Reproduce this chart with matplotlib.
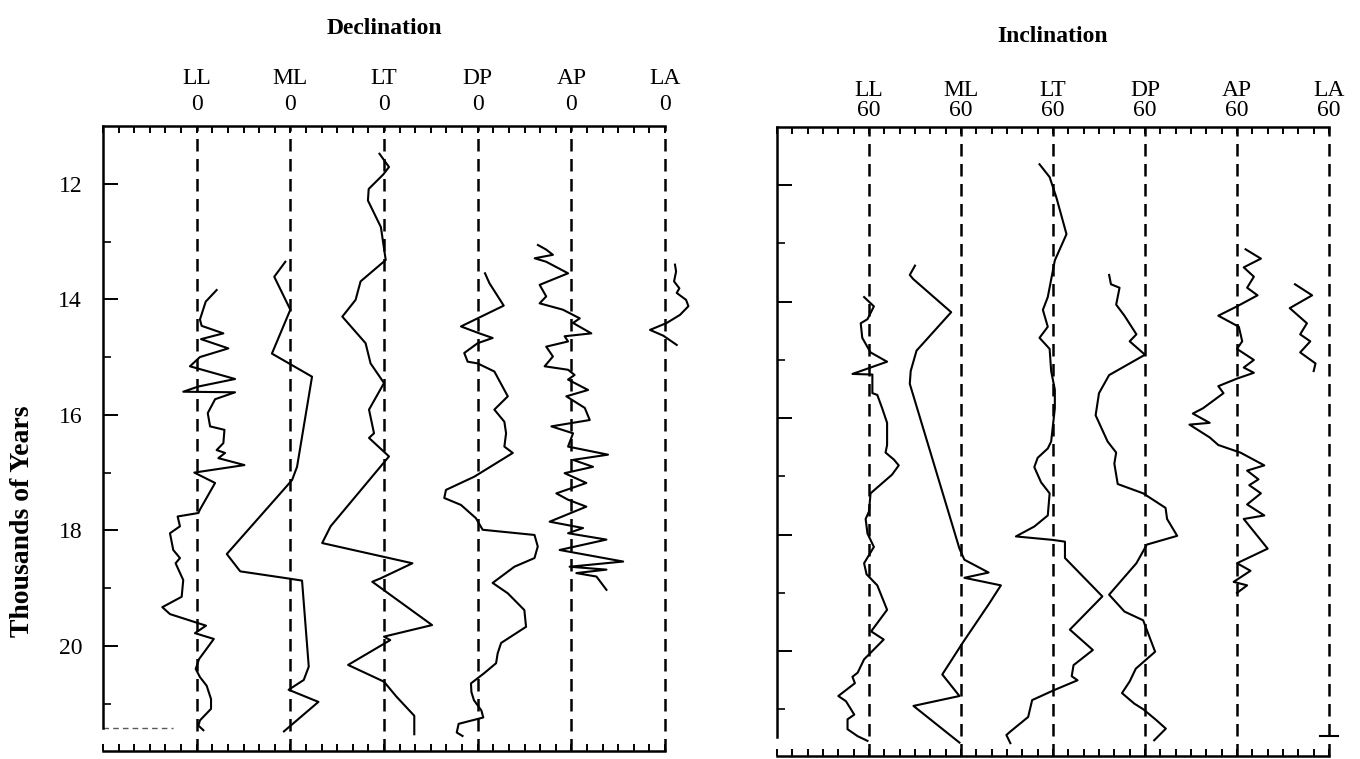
import matplotlib
matplotlib.use('Agg')
import matplotlib.pyplot as plt
import matplotlib.transforms as mtransforms
from matplotlib.ticker import FixedLocator, MultipleLocator
import numpy as np

plt.rcParams['font.family'] = ['Liberation Serif', 'DejaVu Serif']

# ---------------- data ----------------
stations = ['LL', 'ML', 'LT', 'DP', 'AP', 'LA']
age_major = [12, 14, 16, 18, 20]
age_minor = [13, 15, 17, 19, 21]

# Declination (degrees, zero at each dashed line)
dec_LL_age = [13.84, 14.04, 14.35, 14.46, 14.59, 14.69, 14.85, 15.00, 15.16, 15.38, 15.51, 15.60, 15.61,
              15.73, 15.97, 16.20, 16.26, 16.49, 16.61, 16.66, 16.75, 16.87, 17.00, 17.18, 17.64, 17.70,
              17.76, 17.93, 18.05, 18.34, 18.48, 18.57, 18.86, 19.15, 19.33, 19.45, 19.58, 19.65, 19.78,
              19.88, 20.23, 20.40, 20.54, 20.69, 20.92, 21.09, 21.29, 21.38, 21.46]
dec_LL = [12.8, 5.8, 2.1, 3.2, 17.1, 2.8, 20.3, 2.1, -4.3, 24.6, 1.1, -8.6, 24.6,
          11.8, 7.1, 8.6, 17.8, 17.1, 12.8, 18.2, 13.9, 30.6, -1.5, 11.8, 2.1, 1.1,
          -12.2, -10.7, -17.1, -15.0, -10.7, -13.5, -8.6, -9.6, -22.0, -17.1, -2.1, 6.0, -1.1,
          11.0, 1.5, -0.6, 2.1, 6.4, 9.2, 9.2, 2.1, 1.1, 4.3]

dec_ML_age = [13.35, 13.61, 14.18, 14.94, 15.34, 16.90, 17.13, 17.36, 18.41, 18.71, 18.83, 18.87,
              20.36, 20.59, 20.76, 20.97, 21.48]
dec_ML = [-3.2, -10.3, 0.0, -11.8, 13.9, 4.3, 1.1, -6.4, -40.7, -32.1, -2.1, 7.5,
          11.8, 8.6, -1.1, 18.0, -4.1]

dec_LT_age = [11.48, 11.71, 11.84, 12.09, 12.29, 12.75, 13.32, 13.69, 14.01, 14.30, 14.76, 15.11, 15.45,
              15.91, 16.32, 16.40, 16.72, 17.93, 18.22, 18.57, 18.83, 18.89, 19.64, 19.84, 19.90,
              20.33, 20.62, 20.88, 21.21, 21.53]
dec_LT = [-2.9, 3.2, -0.5, -9.8, -10.3, -2.0, 1.1, -15.0, -18.2, -26.7, -11.8, -8.6, 0.0,
          -9.6, -6.4, -9.6, 3.2, -34.2, -39.6, 18.2, -2.1, -7.5, 30.8, 0.0, 4.0,
          -23.0, 0.0, 8.0, 19.4, 19.4]

dec_DP_age = [13.55, 13.72, 14.11, 14.47, 14.59, 14.67, 14.76, 14.93, 15.08, 15.11, 15.25, 15.68, 15.91,
              16.12, 16.32, 16.55, 16.66, 17.07, 17.30, 17.44, 17.56, 17.79, 17.99, 18.08, 18.28, 18.48,
              18.63, 18.91, 19.09, 19.38, 19.67, 19.95, 20.13, 20.30, 20.47, 20.65, 20.80, 20.94, 21.12,
              21.24, 21.35, 21.50, 21.56]
dec_DP = [4.7, 7.5, 16.7, -10.7, 1.1, 9.6, 0.0, -8.6, -6.4, 0.0, 10.7, 19.3, 10.7,
          17.1, 18.2, 17.1, 22.5, -2.1, -20.3, -21.4, -10.7, -1.1, 3.2, 36.4, 38.5, 36.4,
          23.5, 9.6, 19.3, 29.9, 31.0, 15.0, 12.8, 11.8, 4.3, -4.3, -4.0, -2.4, 2.4,
          3.6, -12.2, -13.4, -9.7]

dec_AP_age = [13.06, 13.14, 13.23, 13.29, 13.35, 13.55, 13.75, 13.95, 14.07, 14.18, 14.33, 14.41, 14.59,
              14.64, 14.73, 14.82, 14.99, 15.16, 15.22, 15.31, 15.39, 15.57, 15.68, 15.88, 16.09, 16.20,
              16.32, 16.55, 16.69, 16.78, 16.90, 17.01, 17.18, 17.36, 17.47, 17.59, 17.85, 17.96, 18.05,
              18.16, 18.34, 18.54, 18.63, 18.68, 18.74, 18.80, 19.03]
dec_AP = [-21.4, -16.1, -11.8, -23.5, -16.1, -2.1, -20.3, -16.1, -20.3, -5.4, 5.4, 1.1, 12.8,
          -4.3, -2.1, -16.1, -11.8, -17.1, -2.1, 2.1, -2.1, 10.7, -3.2, 8.6, 11.8, -12.8,
          1.1, -2.1, 23.5, 1.1, 13.9, -4.3, 9.6, -9.6, -2.1, 9.6, -13.9, 7.5, -2.1,
          22.5, -7.5, 33.2, -1.1, 22.5, 3.2, 16.1, 22.5]

dec_LA_age = [13.40, 13.52, 13.69, 13.81, 13.89, 14.01, 14.12, 14.27, 14.41, 14.53, 14.63, 14.79]
dec_LA = [6.4, 7.1, 5.8, 9.2, 7.5, 13.5, 15.0, 9.6, 1.1, -9.6, -1.1, 7.5]

# Inclination (degrees relative to 60 at each dashed line)
inc_LL_age = [13.92, 14.08, 14.30, 14.37, 14.62, 14.87, 15.03, 15.24, 15.25, 15.57, 15.60, 15.83, 16.08,
              16.46, 16.59, 16.71, 16.81, 16.97, 17.29, 17.60, 17.73, 17.98, 18.21, 18.49, 18.68, 18.87,
              19.29, 19.66, 19.80, 20.14, 20.37, 20.44, 20.55, 20.77, 20.86, 21.09, 21.17, 21.34, 21.46,
              21.54]
inc_LL = [-1.6, 1.6, -0.5, -2.7, -2.2, 0.5, 5.9, -5.4, 1.1, 1.1, 2.7, 4.3, 5.9,
          5.9, 5.4, 8.1, 9.7, 7.5, 0.5, 0.0, -1.1, -0.5, 1.6, -1.6, -0.8, 2.7,
          5.9, 0.7, 4.8, -1.6, -3.7, -5.4, -4.6, -10.0, -7.5, -4.8, -7.0, -7.0, -3.7,
          -0.5]

inc_ML_age = [13.38, 13.54, 13.61, 14.18, 14.84, 15.19, 15.41, 18.24, 18.43, 18.65, 18.74, 18.87,
              19.19, 19.86, 20.40, 20.77, 20.94, 21.57]
inc_ML = [-15.0, -16.7, -15.6, -3.2, -14.5, -16.4, -16.7, -0.5, 1.1, 9.0, 1.1, 13.0,
          9.1, 0.5, -6.1, -0.5, -15.5, -0.5]

inc_LT_age = [11.64, 11.86, 12.21, 12.84, 13.29, 13.92, 14.14, 14.43, 14.62, 14.81, 15.19, 15.51, 15.83,
              16.40, 16.52, 16.68, 16.84, 17.10, 17.29, 17.67, 17.86, 18.03, 18.09, 18.12, 18.40, 19.06,
              19.63, 19.98, 20.24, 20.43, 20.50, 20.67, 20.84, 21.13, 21.38, 21.44, 21.58]
inc_LT = [-4.4, -1.1, 1.1, 4.4, 0.6, -1.7, -3.3, -1.7, -4.4, -1.1, -0.6, 0.6, 0.6,
          -0.6, -1.7, -5.0, -6.1, -3.9, -1.1, -1.7, -6.1, -12.1, 0.0, 3.9, 3.9, 16.1,
          5.5, 13.0, 6.7, 6.1, 8.0, 0.3, -6.8, -8.1, -13.9, -15.2, -13.9]

inc_DP_age = [13.54, 13.70, 13.76, 14.05, 14.24, 14.56, 14.68, 14.91, 15.26, 15.57, 15.95, 16.40, 16.59,
              16.78, 17.13, 17.29, 17.54, 17.73, 18.02, 18.17, 18.49, 19.03, 19.32, 19.47, 20.01, 20.30,
              20.52, 20.72, 20.90, 21.00, 21.18, 21.33, 21.53]
inc_DP = [-11.7, -11.1, -8.3, -9.4, -6.7, -2.8, -5.0, 0.0, -11.7, -15.0, -16.1, -12.2, -9.4,
          -10.0, -8.9, -0.6, 6.7, 7.2, 10.5, 0.6, -2.8, -11.7, -6.7, -0.6, 3.3, -3.0,
          -5.0, -7.5, -3.5, -0.5, 3.6, 6.8, 3.0]

inc_AP_age = [13.10, 13.26, 13.41, 13.57, 13.76, 13.89, 14.08, 14.24, 14.43, 14.68, 14.81, 15.00, 15.13,
              15.22, 15.32, 15.45, 15.57, 15.83, 15.92, 16.08, 16.11, 16.33, 16.46, 16.52, 16.59, 16.81,
              16.90, 17.05, 17.15, 17.29, 17.48, 17.67, 17.73, 18.24, 18.49, 18.62, 18.81, 18.87, 19.00]
inc_AP = [2.8, 7.8, 2.2, 5.5, 3.3, 6.7, 0.0, -6.1, 0.6, 1.7, 0.0, 5.5, 2.2,
          5.5, 0.0, -6.1, -4.4, -11.1, -14.4, -8.9, -15.5, -8.9, -6.1, -2.8, 1.1, 8.9,
          3.3, 7.0, 4.0, 7.8, 3.3, 8.9, 2.2, 10.0, 0.0, 4.4, -1.1, 3.3, 0.0]

inc_LA_age = [13.70, 13.89, 14.11, 14.37, 14.56, 14.68, 14.87, 15.06, 15.19]
inc_LA = [-11.1, -5.5, -12.8, -7.2, -9.4, -6.1, -9.4, -4.4, -5.0]

dec_ages = [dec_LL_age, dec_ML_age, dec_LT_age, dec_DP_age, dec_AP_age, dec_LA_age]
dec_vals = [dec_LL, dec_ML, dec_LT, dec_DP, dec_AP, dec_LA]
inc_ages = [inc_LL_age, inc_ML_age, inc_LT_age, inc_DP_age, inc_AP_age, inc_LA_age]
inc_vals = [inc_LL, inc_ML, inc_LT, inc_DP, inc_AP, inc_LA]

# ---------------- layout ----------------
W, H = 1360, 759
fig = plt.figure(figsize=(W / 100, H / 100), dpi=100)


def px_axes(x0, x1, ytop, ybot):
    return fig.add_axes([x0 / W, 1 - ybot / H, (x1 - x0) / W, (ybot - ytop) / H])


def setup(ax, step, tick_step, vals, ages, ref_label, ybottom, spine_end,
          ytop_px, ybot_px, name_y, ref_y, labels_on):
    n = len(stations)
    ax.set_xlim(0, n * step)
    ax.set_ylim(ybottom, 11.0)
    for k in range(1, n + 1):
        ax.axvline(k * step, color='k', lw=1.8, ls=(0, (5, 3)), zorder=1, clip_on=False)
    for k, (a, v) in enumerate(zip(ages, vals), start=1):
        ax.plot(k * step + np.array(v), np.array(a), color='k', lw=1.5,
                solid_joinstyle='round', zorder=3, clip_on=False)
    ax.spines['right'].set_visible(False)
    for s in ('left', 'top', 'bottom'):
        ax.spines[s].set_linewidth(1.8)
    ax.spines['left'].set_bounds(11.0, spine_end)
    ax.xaxis.set_major_locator(MultipleLocator(tick_step))
    ax.tick_params(axis='x', which='major', direction='in', top=True, bottom=True,
                   length=5, width=1.4, labelbottom=False, labeltop=False)
    ax.yaxis.set_major_locator(FixedLocator(age_major))
    ax.yaxis.set_minor_locator(FixedLocator(age_minor))
    ax.tick_params(axis='y', which='major', direction='in', length=11, width=1.4,
                   labelsize=17, pad=15, labelleft=labels_on)
    ax.tick_params(axis='y', which='minor', direction='in', length=6, width=1.2)
    trans = mtransforms.blended_transform_factory(ax.transData, ax.transAxes)
    span = ybot_px - ytop_px
    for k, name in enumerate(stations, start=1):
        ax.text(k * step, (ybot_px - name_y) / span, name, transform=trans,
                ha='center', va='center', fontsize=17, clip_on=False)
        ax.text(k * step, (ybot_px - ref_y) / span, ref_label, transform=trans,
                ha='center', va='center', fontsize=17, clip_on=False)


axL = px_axes(103, 665, 126, 751)
setup(axL, 60, 10, dec_vals, dec_ages, '0', 21.82, 21.42, 126, 751, 79, 104, True)
axL.plot([0, 45], [21.42, 21.42], color='0.35', lw=1.0, ls=(0, (4, 3)), zorder=2, clip_on=False)

axR = px_axes(777, 1329, 127, 756)
setup(axR, 30, 5, inc_vals, inc_ages, '60', 21.80, 21.48, 127, 756, 90, 110, False)
axR.plot([177, 183], [21.46, 21.46], color='k', lw=1.5, clip_on=False)

fig.text(384 / W, 1 - 29 / H, 'Declination', ha='center', va='center',
         fontsize=17, fontweight='bold')
fig.text(1053 / W, 1 - 37 / H, 'Inclination', ha='center', va='center',
         fontsize=17, fontweight='bold')
fig.text(23 / W, 1 - 521 / H, 'Thousands of Years', rotation=90, ha='center', va='center',
         fontsize=20, fontweight='bold')

fig.savefig('out.png', dpi=100)
